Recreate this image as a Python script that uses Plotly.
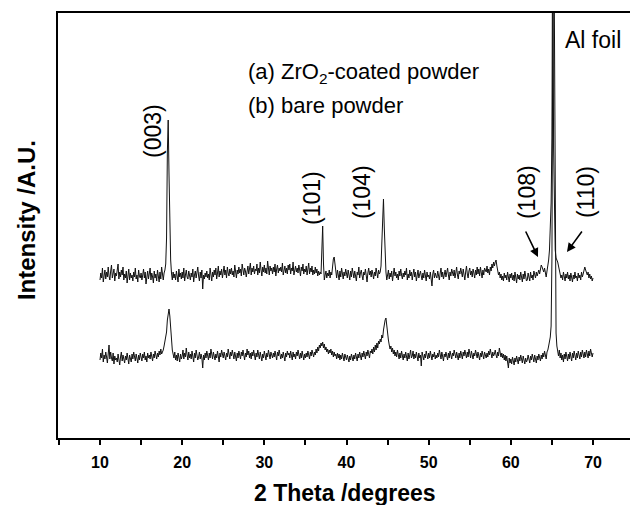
import numpy as np
import plotly.graph_objects as go

# ---------------- data ----------------
scan_start = 10.0   # 2-theta start (degrees)
scan_step = 0.1     # 2-theta step (degrees)

# (a) ZrO2-coated powder, intensity (a.u.), one row per degree
intensity_a = [
    158,165,160,170,156,163,168,159,166,161,
    171,162,158,167,173,160,164,169,157,165,
    162,170,174,159,166,161,168,163,171,158,
    164,160,167,155,162,169,158,165,160,163,
    157,166,161,170,159,163,156,168,162,160,
    165,158,163,169,160,166,154,162,167,159,
    163,170,158,165,161,155,167,160,164,157,
    168,162,156,166,159,171,163,158,165,168,
    174,200,286,318,264,206,178,165,158,166,
    160,164,158,167,162,156,169,161,165,159,
    166,160,170,157,163,168,161,159,167,162,
    158,165,161,169,156,163,167,160,164,171,
    162,157,166,160,168,149,163,159,165,161,
    167,160,164,158,170,162,157,166,161,168,
    163,170,159,165,172,161,167,163,169,160,
    166,172,163,168,160,171,165,162,169,164,
    170,163,167,161,173,166,160,168,164,171,
    165,169,162,174,166,163,170,167,161,168,
    172,164,168,175,163,170,166,172,164,169,
    167,174,163,170,165,176,168,162,171,166,
    173,165,170,164,177,168,163,172,167,170,
    164,171,166,174,162,169,173,165,170,167,
    171,166,175,163,168,172,165,170,164,173,
    168,174,164,170,167,176,163,169,172,166,
    170,165,173,168,162,171,167,174,164,169,
    166,172,163,169,175,164,170,166,172,163,
    168,164,171,165,169,162,167,163,166,164,
    183,212,174,158,163,167,160,165,162,168,
    160,166,163,172,179,181,173,166,160,168,
    163,158,167,161,170,164,159,166,162,169,
    165,160,168,163,158,167,161,170,164,160,
    167,162,157,166,163,171,160,165,168,162,
    158,166,163,169,161,156,165,170,163,167,
    161,168,164,159,166,162,170,165,160,168,
    164,166,172,195,230,239,210,180,166,158,
    163,168,159,165,161,167,157,164,170,162,
    166,160,164,158,167,162,169,163,159,165,
    161,167,163,170,158,164,160,168,162,166,
    158,164,169,161,166,157,163,168,160,165,
    167,162,158,165,160,168,163,157,166,161,
    163,159,166,161,152,164,168,160,165,162,
    160,167,162,158,165,170,161,166,159,164,
    168,161,165,170,163,158,166,162,169,164,
    162,168,160,165,171,163,159,167,164,170,
    165,161,169,163,158,166,172,164,160,167,
    170,163,167,161,169,165,160,168,163,171,
    164,169,162,171,166,160,168,163,170,167,
    166,172,165,169,163,171,167,174,170,176,
    172,176,178,172,167,163,166,160,164,158,
    162,157,165,160,163,158,166,161,156,164,
    160,165,158,163,157,166,161,155,164,159,
    163,158,166,160,156,164,159,167,161,157,
    158,165,161,157,166,160,163,158,167,162,
    160,166,162,165,168,164,170,173,171,168,
    166,170,163,161,167,172,178,188,205,235,
    300,560,290,205,188,180,178,176,172,168,
    165,160,163,158,166,161,157,164,160,166,
    159,163,157,165,161,156,163,159,166,160,
    162,157,165,160,163,158,166,161,164,167,
    171,168,165,163,166,160,164,159,162,157,
    160,
]

# (b) bare powder, intensity (a.u.), one row per degree
intensity_b = [
    78,85,80,89,76,83,79,86,81,75,
    84,93,79,86,80,77,85,74,82,78,
    80,76,84,79,73,81,86,77,83,79,
    75,82,78,85,80,74,83,79,76,84,
    79,86,81,77,84,80,75,83,78,85,
    81,77,84,80,86,78,82,76,85,80,
    83,79,86,81,77,84,80,87,82,79,
    85,81,87,83,89,84,86,88,92,96,
    100,106,118,127,129,122,108,96,88,84,
    80,86,78,83,77,85,81,76,84,79,
    82,88,79,85,81,90,83,78,86,80,
    84,79,87,82,76,85,80,88,83,78,
    81,86,79,84,80,70,83,78,85,80,
    87,82,78,85,80,89,83,79,86,81,
    78,84,80,87,82,76,85,81,88,83,
    80,86,82,78,85,81,89,84,79,86,
    82,88,83,79,86,81,77,85,80,87,
    84,79,86,82,88,83,78,85,81,89,
    83,87,80,85,79,86,82,88,84,78,
    85,81,88,83,79,86,82,77,84,80,
    87,82,78,85,81,88,83,79,86,82,
    80,85,81,87,83,78,86,82,88,84,
    79,84,80,86,82,77,85,81,87,83,
    85,80,87,82,78,86,81,84,79,86,
    82,88,83,79,85,80,87,82,78,84,
    80,85,81,87,83,79,86,82,88,84,
    81,86,83,89,85,91,87,93,90,95,
    92,96,90,94,88,91,86,89,84,88,
    85,89,83,87,81,86,82,84,79,85,
    80,84,78,83,79,85,81,77,84,80,
    78,83,79,76,82,78,84,80,77,83,
    79,85,81,77,84,80,86,82,78,85,
    81,87,83,79,86,82,88,84,80,87,
    85,89,84,91,86,93,88,95,90,97,
    94,99,96,103,100,108,114,118,120,110,
    104,98,93,89,92,86,90,84,88,82,
    86,81,88,83,79,85,80,87,82,78,
    84,80,86,81,77,85,79,83,88,80,
    82,87,79,84,80,86,81,77,85,80,
    83,72,86,81,78,84,80,87,82,79,
    85,80,87,82,78,84,81,86,79,83,
    80,85,81,88,83,79,86,82,77,84,
    81,86,82,78,85,80,87,83,79,85,
    82,88,84,80,86,81,78,85,80,87,
    83,79,86,82,88,84,80,86,81,89,
    84,80,87,83,79,85,82,88,84,80,
    86,82,78,85,81,87,83,79,86,82,
    80,85,81,87,83,89,84,80,86,82,
    84,88,83,80,86,82,90,84,81,85,
    80,84,78,83,77,82,76,70,80,75,
    79,74,81,77,73,80,76,82,78,74,
    81,77,83,79,75,82,78,74,80,76,
    78,83,79,75,82,78,84,80,76,83,
    79,75,82,78,84,80,77,83,79,85,
    81,87,83,79,86,88,92,96,101,112,
    180,400,560,420,150,105,92,86,82,88,
    80,85,78,83,76,84,79,86,81,77,
    84,79,86,81,77,85,80,87,82,78,
    85,80,87,82,79,86,81,88,84,80,
    86,81,88,83,80,87,82,89,84,81,
    85,
]

x_ticks = [5, 10, 15, 20, 25, 30, 35, 40, 45, 50, 55, 60, 65, 70]
x_tick_text = ["", "10", "", "20", "", "30", "", "40", "", "50", "", "60", "", "70"]

peak_labels = ["(003)", "(101)", "(104)", "(108)", "(110)"]
peak_label_x = [16.45, 35.8, 41.9, 61.97, 69.15]
peak_label_y = [307, 240, 246, 246, 246]

legend_lines = ["(a) ZrO<sub>2</sub>-coated powder", "(b) bare powder"]

assert len(intensity_a) == len(intensity_b) == 601
two_theta = np.round(scan_start + scan_step * np.arange(len(intensity_a)), 1)

# ---------------- figure ----------------
FONT = "Liberation Sans, Arial, sans-serif"
fig = go.Figure()
for ys in (intensity_a, intensity_b):
    fig.add_trace(go.Scatter(x=two_theta, y=ys, mode="lines",
                             line=dict(color="#111111", width=1),
                             showlegend=False, hoverinfo="skip"))

ann = []
for t, xx, yy in zip(peak_labels, peak_label_x, peak_label_y):
    ann.append(dict(x=xx, y=yy, xref="x", yref="y", text=t, textangle=-90,
                    xanchor="center", yanchor="middle", showarrow=False,
                    font=dict(family=FONT, size=23, color="black")))
# arrows for (108) and (110)
ann.append(dict(x=63.3, y=181, ax=61.72, ay=208, xref="x", yref="y", axref="x", ayref="y",
                text="", showarrow=True, arrowhead=2, arrowsize=1.1, arrowwidth=1.6,
                arrowcolor="black"))
ann.append(dict(x=66.83, y=186, ax=68.78, ay=208, xref="x", yref="y", axref="x", ayref="y",
                text="", showarrow=True, arrowhead=2, arrowsize=1.1, arrowwidth=1.6,
                arrowcolor="black"))
ann.append(dict(x=66.35, y=398, xref="x", yref="y", text="Al foil", xanchor="left",
                yanchor="middle", showarrow=False,
                font=dict(family=FONT, size=23, color="black")))
for i, t in enumerate(legend_lines):
    ann.append(dict(x=27.77, y=[365, 333][i], xref="x", yref="y", text=t, xanchor="left",
                    yanchor="middle", showarrow=False,
                    font=dict(family=FONT, size=22, color="black")))
ann.append(dict(x=0.502, y=-0.13, xref="paper", yref="paper", text="<b>2 Theta /degrees</b>",
                xanchor="center", yanchor="middle", showarrow=False,
                font=dict(family=FONT, size=23, color="black")))
ann.append(dict(x=-0.054, y=0.513, xref="paper", yref="paper", text="<b>Intensity /A.U.</b>",
                textangle=-90, xanchor="center", yanchor="middle", showarrow=False,
                font=dict(family=FONT, size=24, color="black")))

fig.update_layout(
    width=630, height=505,
    margin=dict(l=58, r=0, t=13, b=67),
    paper_bgcolor="white", plot_bgcolor="white",
    annotations=ann,
    xaxis=dict(range=[4.89, 74.5], tickvals=x_ticks, ticktext=x_tick_text,
               ticks="outside", ticklen=5, tickwidth=2, tickcolor="black",
               showline=True, linewidth=2, linecolor="black", mirror=True,
               showgrid=False, zeroline=False, ticklabelstandoff=4,
               tickfont=dict(family=FONT, size=16, color="black", weight="bold")),
    yaxis=dict(range=[0, 425], showticklabels=False, ticks="",
               showline=True, linewidth=2, linecolor="black",
               showgrid=False, zeroline=False),
)

fig.write_html("out.html", config={"displayModeBar": False})

# remove the browser's default page margin so the figure sits at the window origin
with open("out.html", "r", encoding="utf-8") as f:
    html = f.read()
html = html.replace("<head>", "<head><style>html,body{margin:0;padding:0;}</style>", 1)
with open("out.html", "w", encoding="utf-8") as f:
    f.write(html)
